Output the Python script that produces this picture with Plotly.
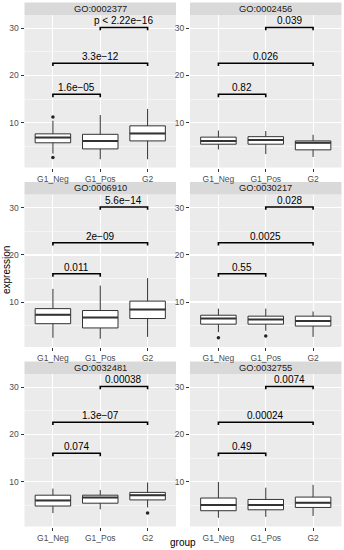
import plotly.graph_objects as go

# ---------------- data ----------------
groups = ["G1_Neg", "G1_Pos", "G2"]
go_terms = ["GO:0002377", "GO:0002456", "GO:0006910",
            "GO:0030217", "GO:0032481", "GO:0032755"]

# box statistics per panel, order G1_Neg, G1_Pos, G2
lower_whisker = [[3.4, 2.2, 2.2], [4.3, 3.3, 2.7], [2.4, 2.2, 2.6],
                 [3.6, 3.9, 2.6], [3.3, 4.1, 4.5], [2.3, 2.5, 2.7]]
q1_values = [[5.7, 4.4, 6.1], [5.4, 5.4, 4.2], [5.4, 4.5, 6.5],
             [5.3, 5.3, 4.9], [4.8, 5.4, 6.1], [3.8, 4.0, 4.5]]
median_values = [[6.8, 6.1, 7.7], [6.1, 6.3, 5.7], [7.3, 6.7, 8.4],
                 [6.5, 6.3, 6.0], [6.0, 6.6, 7.1], [5.0, 5.0, 5.5]]
q3_values = [[7.6, 7.5, 9.3], [6.9, 7.0, 6.1], [8.6, 8.2, 10.2],
             [7.2, 7.0, 7.0], [7.1, 7.1, 7.7], [6.5, 6.2, 6.7]]
upper_whisker = [[10.4, 11.6, 12.9], [8.3, 8.2, 7.4], [12.8, 13.5, 15.1],
                 [8.6, 8.6, 8.0], [8.5, 8.2, 9.8], [9.9, 8.7, 9.3]]
outliers = [[[11.2, 2.6], [], []], [[], [], []], [[], [], []],
            [[2.4], [2.8], []], [[], [], [3.3]], [[], [], []]]

# comparisons: (G1_Neg,G1_Pos), (G1_Neg,G2), (G1_Pos,G2)
comparison_pairs = [(0, 1), (0, 2), (1, 2)]
bracket_levels = [16.0, 22.6, 30.2]
p_labels = [["1.6e\u221205", "3.3e\u221212", "p < 2.22e\u221216"],
            ["0.82", "0.026", "0.039"],
            ["0.011", "2e\u221209", "5.6e\u221214"],
            ["0.55", "0.0025", "0.028"],
            ["0.074", "1.3e\u221207", "0.00038"],
            ["0.49", "0.00024", "0.0074"]]

y_ticks = [10, 20, 30]
y_minor = [5, 15, 25]

# ---------------- layout geometry ----------------
W, H = 344, 550
col_px = [(24.5, 176.0), (190.0, 341.5)]
row_px = [(15.0, 167.5), (194.5, 347.0), (374.0, 526.5)]
strip_h = 12.5
FONT = "Liberation Sans, Arial, sans-serif"
BOX_W = 0.75
TIP = 0.6

fig = go.Figure()
layout_axes = {}
shapes = []
annotations = []

for k, term in enumerate(go_terms):
    r, c = divmod(k, 2)
    idx = k + 1
    xa = "x" if idx == 1 else f"x{idx}"
    ya = "y" if idx == 1 else f"y{idx}"
    x0p, x1p = col_px[c]
    t, b = row_px[r]
    xdom = [x0p / W, x1p / W]
    ydom = [1 - b / H, 1 - t / H]

    layout_axes["xaxis" if idx == 1 else f"xaxis{idx}"] = dict(
        domain=xdom, anchor=ya, range=[-0.6, 2.6],
        tickvals=list(range(len(groups))), ticktext=groups,
        showgrid=True, gridcolor="white", gridwidth=1.1,
        zeroline=False, showline=False, automargin=False,
        ticks="outside", ticklen=3, tickwidth=1, tickcolor="#333333",
        tickfont=dict(family=FONT, size=8.5, color="#4D4D4D"),
    )
    layout_axes["yaxis" if idx == 1 else f"yaxis{idx}"] = dict(
        domain=ydom, anchor=xa, range=[0.45, 32.85],
        tickvals=y_ticks, ticktext=[str(v) for v in y_ticks],
        showgrid=True, gridcolor="white", gridwidth=1.1,
        minor=dict(tickvals=y_minor, showgrid=True, gridcolor="white",
                   gridwidth=0.5, ticks=""),
        zeroline=False, showline=False, automargin=False,
        ticks="outside", ticklen=3, tickwidth=1, tickcolor="#333333",
        tickfont=dict(family=FONT, size=8.5, color="#4D4D4D"),
    )

    xs = list(range(len(groups)))
    # box plot
    fig.add_trace(go.Box(
        x=xs, q1=q1_values[k], median=median_values[k], q3=q3_values[k],
        lowerfence=lower_whisker[k], upperfence=upper_whisker[k],
        width=BOX_W, whiskerwidth=0, boxpoints=False,
        fillcolor="white", line=dict(color="#333333", width=1),
        xaxis=xa, yaxis=ya, showlegend=False, hoverinfo="skip",
    ))
    # thicker median line
    mx, my = [], []
    for i, m in enumerate(median_values[k]):
        mx += [i - BOX_W / 2, i + BOX_W / 2, None]
        my += [m, m, None]
    fig.add_trace(go.Scatter(x=mx, y=my, mode="lines",
                             line=dict(color="#333333", width=2),
                             xaxis=xa, yaxis=ya, showlegend=False,
                             hoverinfo="skip"))
    # outliers
    ox, oy = [], []
    for i, vals in enumerate(outliers[k]):
        for v in vals:
            ox.append(i)
            oy.append(v)
    if ox:
        fig.add_trace(go.Scatter(x=ox, y=oy, mode="markers",
                                 marker=dict(color="#222222", size=3.5),
                                 xaxis=xa, yaxis=ya, showlegend=False,
                                 hoverinfo="skip"))
    # significance brackets
    bx, by = [], []
    for (a, bb), lvl, lab in zip(comparison_pairs, bracket_levels, p_labels[k]):
        bx += [a, a, bb, bb, None]
        by += [lvl - TIP, lvl, lvl, lvl - TIP, None]
        annotations.append(dict(
            x=(a + bb) / 2, y=lvl, xref=xa, yref=ya, text=lab,
            showarrow=False, yanchor="bottom", yshift=-1,
            font=dict(family=FONT, size=10, color="black")))
    fig.add_trace(go.Scatter(x=bx, y=by, mode="lines",
                             line=dict(color="black", width=1.6),
                             xaxis=xa, yaxis=ya, showlegend=False,
                             hoverinfo="skip"))

    # facet strip
    shapes.append(dict(type="rect", xref="paper", yref="paper",
                       x0=xdom[0], x1=xdom[1],
                       y0=ydom[1], y1=ydom[1] + strip_h / H,
                       fillcolor="#D9D9D9", line=dict(width=0), layer="below"))
    annotations.append(dict(
        x=(xdom[0] + xdom[1]) / 2, y=ydom[1] + strip_h / (2 * H),
        xref="paper", yref="paper", text=term, showarrow=False,
        xanchor="center", yanchor="middle",
        font=dict(family=FONT, size=9.3, color="#1A1A1A")))

# axis titles
annotations.append(dict(x=6 / W, y=1 - 270 / H, xref="paper", yref="paper",
                        text="expression", textangle=-90, showarrow=False,
                        xanchor="center", yanchor="middle",
                        font=dict(family=FONT, size=10, color="black")))
annotations.append(dict(x=183 / W, y=1 - 542 / H, xref="paper", yref="paper",
                        text="group", showarrow=False,
                        xanchor="center", yanchor="middle",
                        font=dict(family=FONT, size=10, color="black")))

fig.update_layout(
    width=W, height=H, margin=dict(l=0, r=0, t=0, b=0, autoexpand=False),
    paper_bgcolor="white", plot_bgcolor="#EBEBEB",
    shapes=shapes, annotations=annotations, showlegend=False,
    font=dict(family=FONT),
    **layout_axes,
)

fig.write_html("out.html",
               config={"displayModeBar": False, "staticPlot": True},
               post_script="document.body.style.margin='0';"
                           "document.body.style.overflow='hidden';")
